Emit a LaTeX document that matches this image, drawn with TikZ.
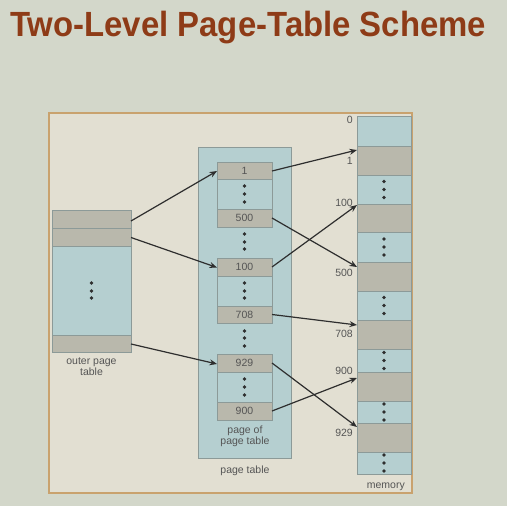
\documentclass[tikz,border=0pt]{standalone}
\usepackage{fontspec}
\setmainfont{Liberation Sans}
\usetikzlibrary{arrows.meta,calc}
\definecolor{pagebg}{HTML}{D3D7CA}
\definecolor{framef}{HTML}{E2DFD2}
\definecolor{framec}{HTML}{C9A26E}
\definecolor{grayf}{HTML}{B9B8AC}
\definecolor{bluef}{HTML}{B5CFD0}
\definecolor{bordc}{HTML}{8C9A98}
\definecolor{txtc}{HTML}{555555}
\definecolor{arrc}{HTML}{2E2E2E}
\definecolor{titlec}{HTML}{8E3B17}
\newcommand{\lblfont}{\fontsize{10.5}{12}\selectfont}
\tikzset{
  cell/.style={draw=bordc, line width=0.8pt, inner sep=0pt, outer sep=0pt, anchor=north west, font=\lblfont, text=txtc},
  grayc/.style={cell, fill=grayf},
  bluec/.style={cell, fill=bluef},
  lbl/.style={font=\lblfont, text=txtc, inner sep=0pt},
  arr/.style={-{Stealth[length=7.5pt,width=6pt]}, line width=1.2pt, draw=arrc},
  dot/.style={fill=arrc}
}
\begin{document}
\begin{tikzpicture}[x=1pt,y=-1pt]
\useasboundingbox (0,0) rectangle (507,506);
\fill[pagebg] (0,0) rectangle (507,506);
% title
\node[anchor=base west, inner sep=0pt, text=titlec, font=\bfseries\fontsize{35}{40}\selectfont] (title) at (10,36)
  {\scalebox{0.94}[1]{Two-Level Page-Table Scheme}};
% frame
\draw[framec, line width=2.5pt, fill=framef] (49,113) rectangle (412,493);
% outer page table
\node[grayc, minimum width=79pt, minimum height=18pt] (ot1) at (52,210) {};
\node[grayc, minimum width=79pt, minimum height=18pt] (ot2) at (52,228) {};
\node[bluec, minimum width=79pt, minimum height=89pt] (otb) at (52,246) {};
\node[grayc, minimum width=79pt, minimum height=17pt] (ot3) at (52,335) {};
\foreach \y in {283,291,298} \fill[dot] (91.5,\y) circle (1.9);
\node[lbl, align=center, anchor=north] (otl) at (91.5,358) {outer page\\[-1pt]table};
% page table background
\node[bluec, minimum width=93pt, minimum height=311pt] (pt) at (198,147) {};
\node[lbl, anchor=north] (ptl) at (245,466) {page table};
% group 1
\node[grayc, minimum width=55pt, minimum height=17pt] (p1) at (217,162) {1};
\node[bluec, minimum width=55pt, minimum height=30pt] (p1b) at (217,179) {};
\node[grayc, minimum width=55pt, minimum height=18pt] (p500) at (217,209) {500};
% group 2
\node[grayc, minimum width=55pt, minimum height=18pt] (p100) at (217,258) {100};
\node[bluec, minimum width=55pt, minimum height=30pt] (p100b) at (217,276) {};
\node[grayc, minimum width=55pt, minimum height=17pt] (p708) at (217,306) {708};
% group 3
\node[grayc, minimum width=55pt, minimum height=18pt] (p929) at (217,354) {929};
\node[bluec, minimum width=55pt, minimum height=30pt] (p929b) at (217,372) {};
\node[grayc, minimum width=55pt, minimum height=18pt] (p900) at (217,402) {900};
\node[lbl, align=center, anchor=north] (ppl) at (245,426) {page of\\[-1pt]page table};
\foreach \y in {186,194,202, 234,242,249, 283,291,298, 331,338,346, 379,387,395} \fill[dot] (244.5,\y) circle (1.9);
% memory
\node[bluec, minimum width=54pt, minimum height=30pt] (m0) at (357,116) {};
\node[grayc, minimum width=54pt, minimum height=29pt] (m1) at (357,146) {};
\node[bluec, minimum width=54pt, minimum height=29pt] (mb1) at (357,175) {};
\node[grayc, minimum width=54pt, minimum height=28pt] (m100) at (357,204) {};
\node[bluec, minimum width=54pt, minimum height=30pt] (mb2) at (357,232) {};
\node[grayc, minimum width=54pt, minimum height=29pt] (m500) at (357,262) {};
\node[bluec, minimum width=54pt, minimum height=29pt] (mb3) at (357,291) {};
\node[grayc, minimum width=54pt, minimum height=29pt] (m708) at (357,320) {};
\node[bluec, minimum width=54pt, minimum height=23pt] (mb4) at (357,349) {};
\node[grayc, minimum width=54pt, minimum height=29pt] (m900) at (357,372) {};
\node[bluec, minimum width=54pt, minimum height=22pt] (mb5) at (357,401) {};
\node[grayc, minimum width=54pt, minimum height=29pt] (m929) at (357,423) {};
\node[bluec, minimum width=54pt, minimum height=22pt] (mb6) at (357,452) {};
\foreach \n in {mb1,mb2,mb3,mb4,mb5,mb6}
  \foreach \d in {-8,0,8} \fill[dot] ($(\n.center)+(0,\d)$) circle (1.9);
\node[lbl, anchor=south east] (ml) at (405,491) {memory};
% memory labels
\node[lbl, anchor=east] (l0) at (353,120) {0};
\node[lbl, anchor=east] (l1) at (353,161) {1};
\node[lbl, anchor=east] (l100) at (353,203) {100};
\node[lbl, anchor=east] (l500) at (353,273) {500};
\node[lbl, anchor=east] (l708) at (353,334) {708};
\node[lbl, anchor=east] (l900) at (353,371) {900};
\node[lbl, anchor=east] (l929) at (353,433) {929};
% arrows
\draw[arr] ([yshift=-2pt]ot1.east) -- ([yshift=-0.5pt]p1.west);
\draw[arr] ([yshift=-0.5pt]ot2.east) -- ([yshift=-0.5pt]p100.west);
\draw[arr] ([yshift=-0.5pt]ot3.east) -- ([yshift=-1pt]p929.west);
\draw[arr] ([yshift=-0.5pt]p1.east) -- ([yshift=-4pt]m1.north west);
\draw[arr] ([yshift=0pt]p500.east) -- ([yshift=-5pt]m500.north west);
\draw[arr] ([yshift=0pt]p100.east) -- ([yshift=-1pt]m100.north west);
\draw[arr] ([yshift=0pt]p708.east) -- ([yshift=-5pt]m708.north west);
\draw[arr] ([yshift=0pt]p929.east) -- ([yshift=-4pt]m929.north west);
\draw[arr] ([yshift=0pt]p900.east) -- ([yshift=-6pt]m900.north west);
\end{tikzpicture}
\end{document}
